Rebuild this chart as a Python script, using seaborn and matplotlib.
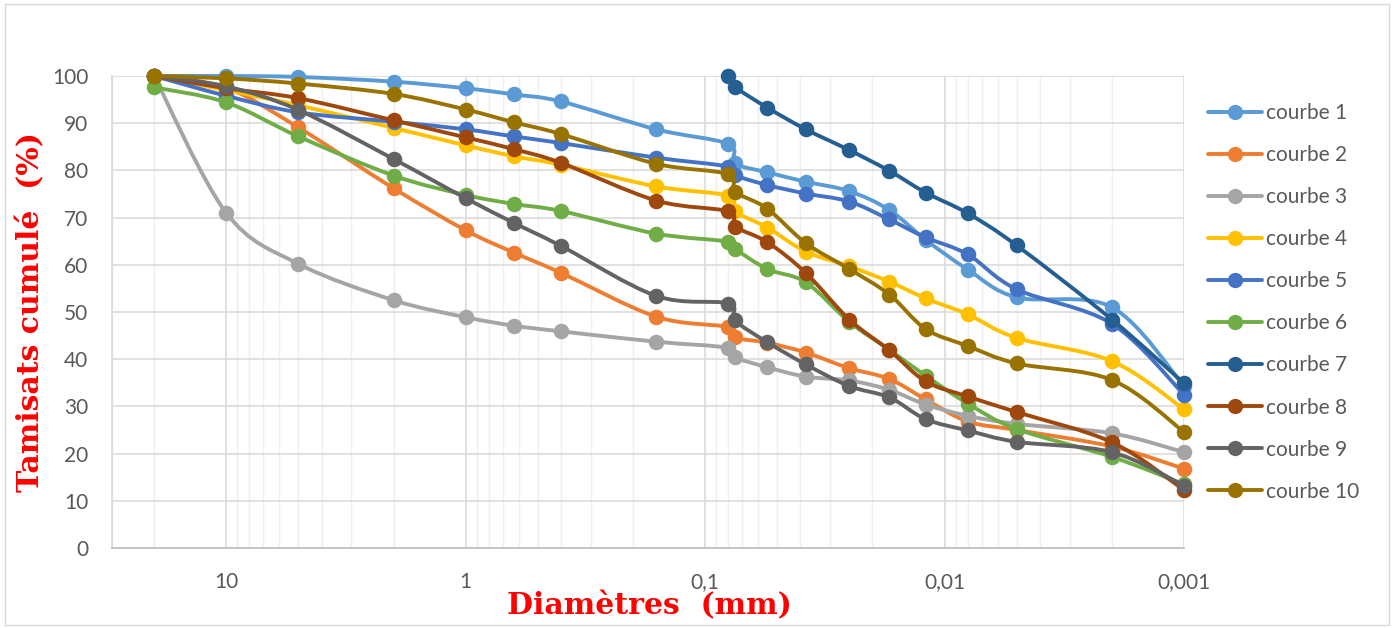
import matplotlib
matplotlib.use("Agg")
import matplotlib.pyplot as plt
import matplotlib.ticker as mtick
from matplotlib.lines import Line2D
from matplotlib.path import Path
from matplotlib.patches import PathPatch, Rectangle
import numpy as np
import pandas as pd
import seaborn as sns

# ── Data ──────────────────────────────────────────────────────────────────
diametres = [20, 10, 5, 2, 1, 0.63, 0.4, 0.16, 0.08, 0.075, 0.055, 0.038,
             0.025, 0.017, 0.012, 0.008, 0.005, 0.002, 0.001]

courbe_1 = [100, 100, 99.8, 98.8, 97.4, 96.1, 94.6, 88.7, 85.6, 81.5, 79.6,
            77.6, 75.6, 71.6, 65.3, 59.0, 53.1, 51.0, 34.3]
courbe_2 = [100, 97.5, 89.1, 76.2, 67.3, 62.6, 58.3, 49.0, 46.8, 44.6, 43.5,
            41.4, 38.1, 35.8, 31.5, 26.8, 25.0, 21.5, 16.8]
courbe_3 = [100, 71.0, 60.2, 52.5, 48.9, 47.1, 45.9, 43.7, 42.4, 40.4, 38.3,
            36.3, 35.5, 33.5, 30.4, 28.0, 26.3, 24.3, 20.3]
courbe_4 = [100, 97.0, 93.8, 89.0, 85.3, 83.0, 81.2, 76.6, 74.6, 71.3, 67.9,
            62.8, 59.7, 56.4, 52.9, 49.5, 44.5, 39.6, 29.4]
courbe_5 = [100, 95.8, 92.3, 90.3, 88.7, 87.2, 85.8, 82.7, 80.8, 79.0, 76.9,
            75.1, 73.4, 69.6, 65.8, 62.2, 54.8, 47.5, 32.5]
courbe_6 = [97.6, 94.4, 87.2, 78.9, 74.8, 72.9, 71.4, 66.6, 64.9, 63.4, 59.1,
            56.3, 47.9, 42.0, 36.5, 30.6, 25.2, 19.3, 13.5]
courbe_7 = [np.nan] * 8 + [100, 97.7, 93.3, 88.7, 84.3, 79.9, 75.3, 70.9,
                           64.1, 48.4, 34.9]
courbe_8 = [100, 97.4, 95.3, 90.6, 87.0, 84.5, 81.6, 73.6, 71.3, 68.1, 64.8,
            58.3, 48.4, 41.9, 35.3, 32.1, 28.8, 22.4, 12.3]
courbe_9 = [100, 97.8, 92.8, 82.4, 74.1, 68.9, 64.0, 53.4, 51.8, 48.2, 43.6,
            38.9, 34.3, 31.9, 27.3, 24.9, 22.5, 20.3, 13.2]
courbe_10 = [100, 99.5, 98.4, 96.2, 92.9, 90.2, 87.7, 81.4, 79.2, 75.5, 71.9,
             64.6, 59.1, 53.7, 46.4, 42.8, 39.1, 35.6, 24.6]

series = [courbe_1, courbe_2, courbe_3, courbe_4, courbe_5,
          courbe_6, courbe_7, courbe_8, courbe_9, courbe_10]
labels = [f"courbe {i}" for i in range(1, 11)]
colors = ["#5B9BD5", "#ED7D31", "#A5A5A5", "#FFC000", "#4472C4",
          "#70AD47", "#255E91", "#9E480E", "#636363", "#997300"]

x_ticks = [10, 1, 0.1, 0.01, 0.001]
x_ticklabels = ["10", "1", "0,1", "0,01", "0,001"]

df = pd.concat([
    pd.DataFrame({"diam": diametres, "pct": vals, "courbe": lab})
    for vals, lab in zip(series, labels)
]).dropna()


def smooth_path(x, y):
    """Excel-like smoothed line as cubic Bezier, built in log-x space."""
    pts = np.column_stack([np.log10(x), y])
    n = len(pts)
    verts, codes = [pts[0]], [Path.MOVETO]
    for i in range(n - 1):
        p0, p1 = pts[max(i - 1, 0)], pts[i]
        p2, p3 = pts[i + 1], pts[min(i + 2, n - 1)]
        verts += [p1 + (p2 - p0) / 6, p2 - (p3 - p1) / 6, p2]
        codes += [Path.CURVE4] * 3
    verts = np.array(verts)
    verts[:, 0] = 10 ** verts[:, 0]
    return Path(verts, codes)


# ── Plot ──────────────────────────────────────────────────────────────────
sns.set_theme(style="whitegrid")
plt.rcParams["font.family"] = ["Lato", "DejaVu Sans"]

fig = plt.figure(figsize=(13.94, 6.28), dpi=100)
ax = fig.add_axes([112 / 1394, 80 / 628, 1072 / 1394, 472 / 628])

ax.set_xscale("log")
for i, (lab, col) in enumerate(zip(labels, colors)):
    sub = df[df["courbe"] == lab]
    z = 3 + i * 0.1
    ax.add_patch(PathPatch(smooth_path(sub["diam"].values, sub["pct"].values),
                           fill=False, edgecolor=col, lw=2.8,
                           capstyle="round", joinstyle="round", zorder=z,
                           clip_on=False))
    sns.scatterplot(data=sub, x="diam", y="pct", color=col, s=125,
                    linewidth=0, legend=False, ax=ax, zorder=z + 0.05,
                    clip_on=False)

ax.set_xlim(30, 0.001)
ax.set_ylim(0, 100)
ax.set_xticks(x_ticks)
ax.set_xticklabels(x_ticklabels)
ax.xaxis.set_minor_locator(mtick.LogLocator(base=10, subs=np.arange(2, 10)))
ax.xaxis.set_minor_formatter(mtick.NullFormatter())
ax.set_yticks(np.arange(0, 101, 10))

ax.grid(which="major", axis="both", color="#d9d9d9", lw=1.1)
ax.grid(which="minor", axis="x", color="#efefef", lw=1.0)
ax.tick_params(axis="both", which="both", length=0, labelsize=15,
               labelcolor="#595959")
ax.tick_params(axis="x", pad=17)
ax.tick_params(axis="y", pad=17)
for s in ["top", "right"]:
    ax.spines[s].set_visible(False)
ax.spines["bottom"].set_color("#bfbfbf")
ax.spines["left"].set_color("#d9d9d9")
ax.set_xlabel("")
ax.set_ylabel("")

title_font = dict(family="DejaVu Serif", weight="bold", color="red", size=21.5)
fig.text(649 / 1394, 1 - 606 / 628, "Diamètres  (mm)", ha="center",
         va="center", **title_font)
fig.text(31 / 1394, 1 - 312 / 628, "Tamisats cumulé  (%)", ha="center",
         va="center", rotation=90, **title_font)

handles = [Line2D([0], [0], color=c, lw=2.8, marker="o", markersize=11,
                  markeredgewidth=0) for c in colors]
fig.legend(handles, labels, loc="upper left",
           bbox_to_anchor=(1208 / 1394, 1 - 103 / 628), frameon=False,
           fontsize=15, labelcolor="#595959", borderpad=0, borderaxespad=0,
           handlelength=2.6, handletextpad=0.2, labelspacing=1.06)

fig.patches.append(Rectangle((5 / 1394, 3 / 628), 1384 / 1394, 621 / 628,
                             transform=fig.transFigure, fill=False,
                             edgecolor="#d9d9d9", lw=1))

fig.savefig("out.png", dpi=100)
